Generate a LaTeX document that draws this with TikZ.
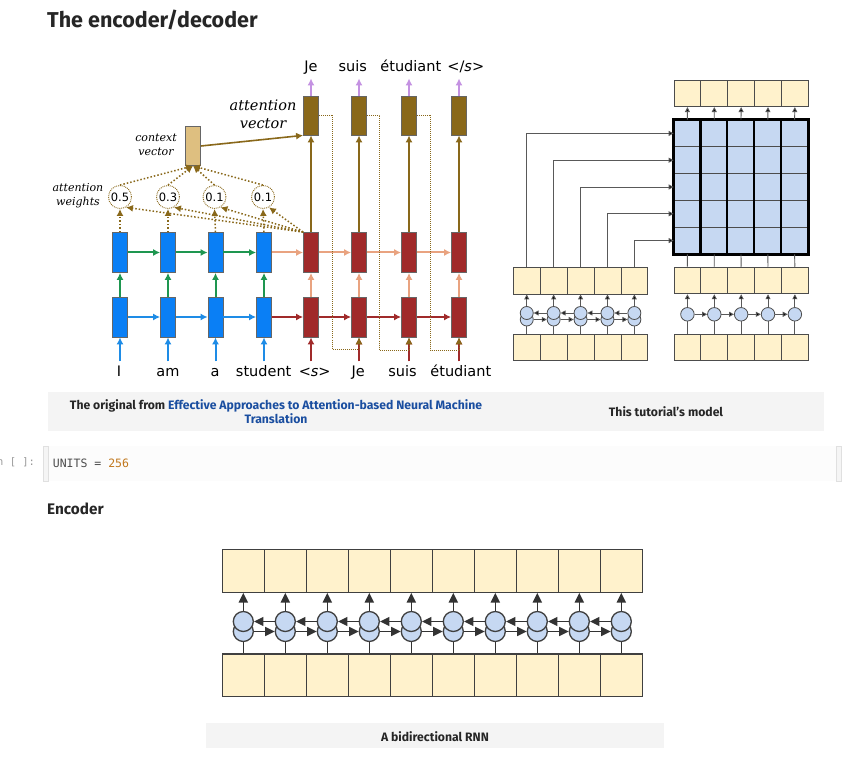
\documentclass[tikz,border=0pt]{standalone}
\usepackage{fontspec}
\setmainfont{Fira Sans}
\setmonofont{DejaVu Sans Mono}
\newfontfamily\labelfamily{DejaVu Sans}
\newfontfamily\notefamily{DejaVu Serif}
\usetikzlibrary{calc,arrows.meta}

\definecolor{encblue}{RGB}{10,127,245}
\definecolor{decred}{RGB}{160,42,42}
\definecolor{attbrown}{RGB}{137,104,26}
\definecolor{ctxtan}{RGB}{222,191,128}
\definecolor{arrgreen}{RGB}{30,150,80}
\definecolor{arrblue}{RGB}{30,140,230}
\definecolor{arrsalmon}{RGB}{233,163,128}
\definecolor{arrpurple}{RGB}{196,146,226}
\definecolor{cellyellow}{RGB}{255,242,204}
\definecolor{cellblue}{RGB}{198,216,242}
\definecolor{bargray}{RGB}{244,244,244}
\definecolor{linkblue}{RGB}{26,78,160}
\definecolor{numorange}{RGB}{193,120,30}

\newcommand{\lblsize}{\labelfamily\fontsize{14.5}{17}\selectfont}
\newcommand{\wtsize}{\labelfamily\fontsize{11.5}{13}\selectfont}
\newcommand{\notebig}{\notefamily\itshape\fontsize{14.5}{18}\selectfont}
\newcommand{\notesmall}{\notefamily\itshape\fontsize{11}{13.5}\selectfont}
\newcommand{\capsize}{\fontsize{12.2}{13.5}\selectfont}

\begin{document}
\begin{tikzpicture}[x=1pt,y=-1pt,
  hid/.style={draw=black!60, line width=0.8, minimum width=15, minimum height=40, inner sep=0},
  word/.style={font=\lblsize, text height=11, text depth=3, inner xsep=0, inner ysep=4.5},
  wt/.style={circle, draw=attbrown, densely dotted, line width=0.9, minimum size=23, inner sep=0, font=\wtsize},
  flow/.style={line width=2, -{Latex[length=7pt,width=7pt]}},
  att/.style={attbrown, line width=1.5, dotted, -{Latex[length=7pt,width=7pt]}},
  feed/.style={attbrown, line width=1, densely dotted, -{Latex[length=7pt,width=7pt]}},
  cell/.style={draw=black!70, fill=cellyellow, line width=0.8, inner sep=0, minimum width=26.9, minimum height=26.7},
  rnn/.style={circle, draw=black!70, fill=cellblue, line width=0.8, inner sep=0, minimum size=13},
  blk/.style={black!65, line width=0.9, -{Triangle[length=5pt,width=5pt,fill=black]}},
  bigblk/.style={black!80, line width=1.5, -{Triangle[length=9.5pt,width=9pt]}},
  capt/.style={font=\capsize\bfseries, text=black!85, align=center, inner sep=0}
]
\useasboundingbox (0,0) rectangle (868,759);
\fill[white] (0,0) rectangle (868,759);

% heading
\node[anchor=base west, inner sep=0, font=\fontsize{21.5}{25}\selectfont\bfseries, text=black!85] (title) at (47,28) {The encoder/decoder};

% --- the original attention model ---
\foreach \x [count=\i] in {120,168,215.5,264} {
  \node[hid, fill=encblue] (hu\i) at (\x,252.5) {};
  \node[hid, fill=encblue] (hl\i) at (\x,317) {};
}
\foreach \x/\i/\j in {311/5/1,359/6/2,409/7/3,459/8/4} {
  \node[hid, fill=decred] (hu\i) at (\x,252.5) {};
  \node[hid, fill=decred] (hl\i) at (\x,317) {};
  \node[hid, fill=attbrown, minimum height=39] (a\j) at (\x,115.5) {};
}
\foreach \x/\t [count=\i] in {119/I,168/am,215/a,263.7/student,314.7/{<\textit{s}>},358.3/Je,402.5/suis,460.8/étudiant}
  \node[word, anchor=base] (w\i) at (\x,377) {\t};
\foreach \x/\t [count=\i] in {311/Je,352.8/suis,410.8/étudiant,465.8/{</\textit{s}>}}
  \node[word, anchor=base, inner ysep=3.5] (o\i) at (\x,71.7) {\t};

% inputs and recurrences
\foreach \i in {1,...,4} {
  \draw[flow, arrblue] (hl\i.south |- w\i.north) -- (hl\i.south);
  \draw[flow, arrgreen] (hl\i.north) -- (hu\i.south);
}
\foreach \i in {5,...,8} {
  \draw[flow, decred] (hl\i.south |- w\i.north) -- (hl\i.south);
  \draw[flow, arrsalmon] (hl\i.north) -- (hu\i.south);
}
\foreach \i [count=\k from 2] in {1,...,3} {
  \draw[flow, arrgreen] (hu\i.east) -- (hu\k.west);
  \draw[flow, arrblue] (hl\i.east) -- (hl\k.west);
}
\foreach \i [count=\k from 5] in {4,...,7} {
  \draw[flow, arrsalmon] (hu\i.east) -- (hu\k.west);
  \draw[flow, decred] (hl\i.east) -- (hl\k.west);
}
\foreach \i/\j in {5/1,6/2,7/3,8/4} {
  \draw[flow, attbrown] (hu\i.north) -- (a\j.south);
  \draw[flow, arrpurple] (a\j.north) -- (a\j.north |- o\j.south);
}

% attention weights and context
\foreach \x/\v [count=\i] in {120/0.5,168/0.3,214.5/0.1,263/0.1}
  \node[wt] (c\i) at (\x,197) {\v};
\node[hid, fill=ctxtan, minimum height=39] (ctx) at (193,146) {};
\foreach \i in {1,...,4} {
  \draw[att] (hu\i.north) -- (c\i.south);
  \draw[att] (c\i.north) -- (ctx.south);
  \draw[att] (hu5.north west) -- (c\i.-60);
}
\draw[flow, attbrown, line width=1.6] (ctx.east) -- (a1.south west);

% input feeding
\draw[feed] (a1.east) -- ++(14,0) -- ++(0,234) -| (hl6.south);
\draw[feed] (a2.east) -- ++(13,0) -- ++(0,235) -| (hl7.south);
\draw[feed] (a3.east) -- ++(14,0) -- ++(0,235) -| (hl8.south);

\node[font=\notebig, align=center, inner sep=0] (attlbl) at (263,114) {attention\\vector};
\node[font=\notesmall, align=center, inner sep=0] (ctxlbl) at (156,145) {context\\vector};
\node[font=\notesmall, align=center, inner sep=0] (wtlbl) at (78,195.5) {attention\\weights};

% --- this tutorial's model ---
\foreach \r in {1,...,5}
  \foreach \c in {1,...,5}
    \node[draw=black!70, fill=cellblue, line width=0.8, minimum width=26.8, minimum height=26.8, inner sep=0]
      (m\r\c) at ({674+26.8*(\c-0.5)},{120+26.8*(\r-0.5)}) {};
\draw[line width=2.4] (m11.north west) rectangle (m55.south east);
\foreach \c in {2,...,5}
  \draw[line width=2.2] (m1\c.north west) -- (m5\c.south west);

\foreach \c in {1,...,5} {
  \node[cell, minimum height=26] (top\c) at ({674+26.86*(\c-0.5)},93.7) {};
  \draw[blk] (m1\c.north) -- (top\c.south);
  % bidirectional encoder
  \node[cell] (bu\c) at ({513.3+26.9*(\c-0.5)},280.7) {};
  \node[cell] (bl\c) at ({513.3+26.9*(\c-0.5)},347.3) {};
  \node[rnn] (bb\c) at ({513.3+26.9*(\c-0.5)},319.5) {};
  \node[rnn] (bt\c) at ({513.3+26.9*(\c-0.5)},313) {};
  \draw[black!65, line width=0.9] (bl\c.north) -- (bb\c.south);
  \draw[blk] (bt\c.north) -- (bu\c.south);
  \draw[blk] (bu\c.north) |- (m\c1.west);
  % decoder
  \node[cell] (uu\c) at ({674+26.86*(\c-0.5)},280.5) {};
  \node[cell] (ul\c) at ({674+26.86*(\c-0.5)},347.5) {};
  \node[rnn, minimum size=13.5] (uc\c) at ({674+26.86*(\c-0.5)},314.3) {};
  \draw[black!65, line width=0.9] (ul\c.north) -- (uc\c.south);
  \draw[blk] (uc\c.north) -- (uu\c.south);
  \draw[black!65, line width=0.9] (uu\c.north) -- (m5\c.south);
}
\foreach \i [count=\k from 2] in {1,...,4} {
  \draw[blk] (bt\k.west) -- (bt\i.east);
  \draw[blk] (bb\i.east) -- (bb\k.west);
  \draw[blk] (uc\i.east) -- (uc\k.west);
}

% captions
\fill[bargray] (48,392) rectangle (824,431);
\node[capt] (cap1) at (276,411.5) {The original from \textcolor{linkblue}{Effective Approaches to Attention-based Neural Machine}\\\textcolor{linkblue}{Translation}};
\node[capt] (cap2) at (666,412) {This tutorial's model};

% code cell
\fill[black!1] (43,446) rectangle (841,481);
\draw[black!12, fill=black!4] (43,446) rectangle (48,481);
\draw[black!12, fill=black!4] (836,446) rectangle (841,481);
\node[anchor=base east, inner sep=0, font=\ttfamily\fontsize{10.4}{12}\selectfont, text=black!40] (prompt) at (35,465) {In [ ]:};
\node[anchor=base west, inner sep=0, font=\ttfamily\fontsize{11.5}{13}\selectfont, text=black!70] (code) at (52.7,467)
  {UNITS = \textcolor{numorange}{256}};

\node[anchor=base west, inner sep=0, font=\fontsize{15.3}{18}\selectfont\bfseries, text=black!85] (enchead) at (47,514) {Encoder};

% --- a bidirectional RNN ---
\foreach \i in {1,...,10} {
  \node[cell, draw=black!75, line width=1.4, minimum width=42, minimum height=43] (eu\i) at ({222.3+42*(\i-0.5)},570.8) {};
  \node[cell, draw=black!75, line width=1.4, minimum width=42, minimum height=42.7] (el\i) at ({222.3+42*(\i-0.5)},675.3) {};
  \node[rnn, draw=black!75, line width=1.3, minimum size=20] (eb\i) at ({222.3+42*(\i-0.5)},631.5) {};
  \node[rnn, draw=black!75, line width=1.3, minimum size=20] (et\i) at ({222.3+42*(\i-0.5)},621.5) {};
  \draw[black!80, line width=1.5] (el\i.north) -- (eb\i.south);
  \draw[bigblk] (et\i.north) -- (eu\i.south);
}
\foreach \i [count=\k from 2] in {1,...,9} {
  \draw[bigblk] (et\k.west) -- (et\i.east);
  \draw[bigblk] (eb\i.east) -- (eb\k.west);
}

\fill[bargray] (206,723) rectangle (664,748);
\node[capt] (cap3) at (435,737) {A bidirectional RNN};

\end{tikzpicture}
\end{document}
